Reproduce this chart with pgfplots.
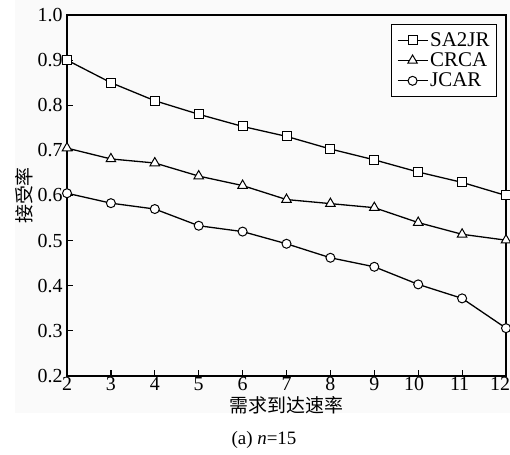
\documentclass[border=0pt]{standalone}
\usepackage{pgfplots}
\pgfplotsset{compat=1.18}
\usepackage{fontspec}
\setmainfont{Liberation Serif}
\newfontfamily\cjk{Noto Sans CJK SC}

\begin{document}
\begin{tikzpicture}[x=1bp,y=1bp]
\useasboundingbox (0,0) rectangle (510,455);
\fill[black!2] (15,42) rectangle (510,455);
\begin{axis}[
  at={(67bp,79bp)}, anchor=south west,
  scale only axis, width=439bp, height=361bp,
  xmin=2, xmax=12, ymin=0.2, ymax=1.0,
  xtick={2,3,4,5,6,7,8,9,10,11,12},
  xticklabels={2,3,4,5,6,7,8,9,10\kern8bp,11\kern5bp,12\kern12bp},
  ytick={0.2,0.3,0.4,0.5,0.6,0.7,0.8,0.9,1.0},
  y tick label style={/pgf/number format/fixed,
    /pgf/number format/fixed zerofill, /pgf/number format/precision=1},
  /pgf/number format/assume math mode=true,
  tick align=inside, tick pos=left,
  major tick length=6bp,
  tick style={line width=1.2bp, black},
  axis line style={line width=1.4bp},
  ticklabel style={font=\fontsize{20}{20}\selectfont},
  xticklabel style={yshift=2bp},
  yticklabel style={xshift=-1bp},
  xlabel={\cjk 需求到达速率},
  ylabel={\cjk 接受率},
  label style={font=\fontsize{19}{19}\selectfont},
  xlabel style={at={(axis description cs:0.5,0)}, anchor=center, yshift=-29bp},
  ylabel style={at={(axis description cs:0,0.5)}, anchor=center, yshift=43bp},
  legend style={at={(rel axis cs:1,1)}, anchor=north east, xshift=-9bp, yshift=-9bp,
    draw=black, line width=1bp, font=\fontsize{21}{21}\selectfont,
    inner xsep=5bp, inner ysep=6bp, row sep=1bp, cells={anchor=west}},
  legend image code/.code={
    \draw[mark repeat=2, mark phase=2] plot coordinates {(0bp,0bp) (15bp,0bp) (30bp,0bp)};
  },
  every axis plot/.append style={line width=1.3bp, black,
    mark options={fill=white, line width=1bp, solid}},
  clip=false,
]
% SA2JR
\addplot[mark=square*, mark size=4.5bp] coordinates {
  (2,0.900) (3,0.850) (4,0.810) (5,0.780) (6,0.753) (7,0.731)
  (8,0.703) (9,0.679) (10,0.652) (11,0.629) (12,0.600)};
% CRCA
\addplot[mark=triangle*, mark size=5.5bp] coordinates {
  (2,0.705) (3,0.681) (4,0.672) (5,0.643) (6,0.622) (7,0.591)
  (8,0.582) (9,0.573) (10,0.540) (11,0.514) (12,0.501)};
% JCAR
\addplot[mark=*, mark size=4.5bp] coordinates {
  (2,0.605) (3,0.583) (4,0.570) (5,0.533) (6,0.520) (7,0.493)
  (8,0.462) (9,0.442) (10,0.403) (11,0.372) (12,0.306)};
\legend{SA2JR, CRCA, JCAR}
\end{axis}
\node[font=\fontsize{19}{19}\selectfont] at (264,15) {(a) \textit{n}=15};
\end{tikzpicture}
\end{document}
